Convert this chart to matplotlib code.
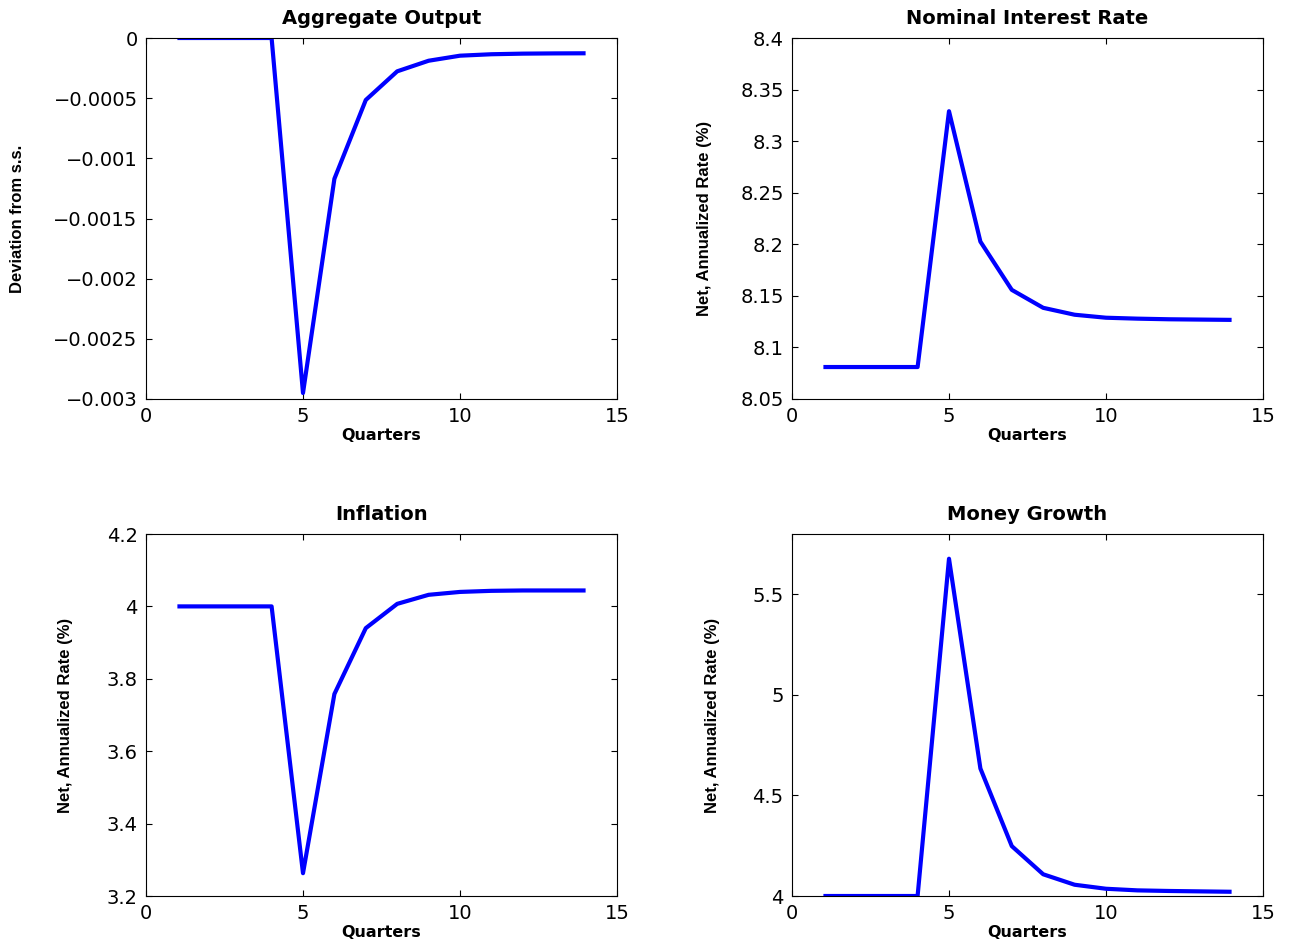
import matplotlib
matplotlib.use("Agg")
import matplotlib.pyplot as plt
from matplotlib.ticker import FuncFormatter, FixedLocator

quarters = list(range(1, 15))
output_dev = [0, 0, 0, 0, -0.00295, -0.00117, -0.000515, -0.000277, -0.000189,
              -0.000147, -0.000135, -0.00013, -0.000128, -0.000127]
nominal_rate = [8.081, 8.081, 8.081, 8.081, 8.329, 8.2026, 8.1558, 8.1384, 8.1317,
                8.1288, 8.1279, 8.1273, 8.127, 8.1267]
inflation = [4.0, 4.0, 4.0, 4.0, 3.263, 3.758, 3.940, 4.007, 4.032, 4.040, 4.043,
             4.044, 4.044, 4.044]
money_growth = [4.0, 4.0, 4.0, 4.0, 5.677, 4.634, 4.248, 4.108, 4.056, 4.036, 4.028,
                4.025, 4.023, 4.021]

titles = ["Aggregate Output", "Nominal Interest Rate", "Inflation", "Money Growth"]
ylabels = ["Deviation from s.s.", "Net, Annualized Rate (%)",
           "Net, Annualized Rate (%)", "Net, Annualized Rate (%)"]
series = [output_dev, nominal_rate, inflation, money_growth]
ylims = [(-0.003, 0), (8.05, 8.4), (3.2, 4.2), (4.0, 5.8)]
yticks = [[-0.003, -0.0025, -0.002, -0.0015, -0.001, -0.0005, 0],
          [8.05, 8.1, 8.15, 8.2, 8.25, 8.3, 8.35, 8.4],
          [3.2, 3.4, 3.6, 3.8, 4.0, 4.2],
          [4.0, 4.5, 5.0, 5.5]]
xticks = [0, 5, 10, 15]

W, H = 1289, 948
fig = plt.figure(figsize=(W / 100, H / 100), dpi=100)

boxes = [(146, 38, 617, 399), (792, 38, 1263, 399),
         (146, 534, 617, 896), (792, 534, 1263, 896)]
ylab_x = [-0.272, -0.185, -0.17, -0.168]

tickfont = ["DejaVu Sans"]
narrow = ["Liberation Sans Narrow", "Liberation Sans", "DejaVu Sans"]

def fmt(v, pos):
    s = "%g" % v
    return s.replace("-", "\u2212")

for i in range(4):
    l, t, r, b = boxes[i]
    ax = fig.add_axes([l / W, 1 - b / H, (r - l) / W, (b - t) / H])
    ax.plot(quarters, series[i], color="#0000ff", linewidth=3.0, solid_capstyle="butt")
    ax.set_xlim(0, 15)
    ax.set_ylim(*ylims[i])
    ax.xaxis.set_major_locator(FixedLocator(xticks))
    ax.yaxis.set_major_locator(FixedLocator(yticks[i]))
    ax.yaxis.set_major_formatter(FuncFormatter(fmt))
    ax.xaxis.set_major_formatter(FuncFormatter(fmt))
    ax.tick_params(direction="in", length=4, width=0.8, top=True, right=True,
                   labelsize=14, pad=6)
    for lab in ax.get_xticklabels() + ax.get_yticklabels():
        lab.set_family(tickfont)
    for sp in ax.spines.values():
        sp.set_linewidth(0.8)
    ax.set_title(titles[i], fontsize=14, fontweight="bold", family=tickfont, pad=10)
    ax.set_xlabel("Quarters", fontsize=11.5, fontweight="bold", family=tickfont, va="center")
    ax.xaxis.set_label_coords(0.5, -0.102)
    ax.set_ylabel(ylabels[i], fontsize=12, fontweight="bold", family=narrow, va="center")
    ax.yaxis.set_label_coords(ylab_x[i], 0.5)

fig.savefig("out.png", dpi=100)
